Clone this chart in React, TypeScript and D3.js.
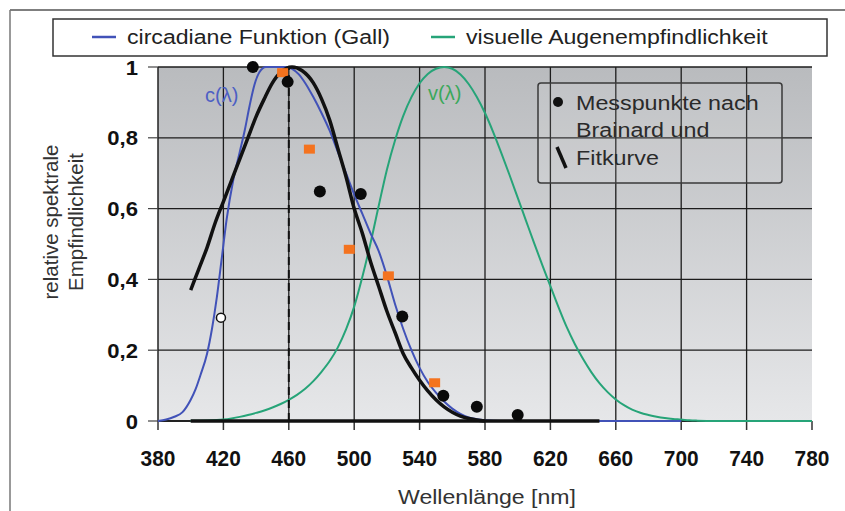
import * as React from "react";
import * as d3 from "d3";

// wavelength [nm], relative sensitivity
const circadian: [number, number][] = [
  [380, 0], [385, 0.004], [390, 0.012], [395, 0.025], [400, 0.06], [403, 0.09],
  [406, 0.13], [410, 0.19], [413, 0.26], [416, 0.35], [419, 0.46], [422, 0.57],
  [426, 0.68], [430, 0.76], [433, 0.82], [436, 0.89], [439, 0.95], [442, 0.985],
  [446, 1.0], [458, 1.0], [462, 0.995], [466, 0.98], [470, 0.955], [475, 0.915],
  [480, 0.87], [485, 0.82], [490, 0.76], [495, 0.7], [500, 0.64], [505, 0.585],
  [510, 0.53], [515, 0.48], [520, 0.41], [525, 0.33], [530, 0.26], [535, 0.2],
  [540, 0.15], [545, 0.11], [550, 0.08], [555, 0.055], [560, 0.035], [565, 0.02],
  [570, 0.01], [575, 0.005], [580, 0.002], [590, 0], [700, 0],
];

const visual: [number, number][] = [
  [400, 0.0004], [410, 0.0012], [420, 0.004], [425, 0.0073], [430, 0.0116], [435, 0.0168],
  [440, 0.023], [445, 0.0298], [450, 0.038], [455, 0.048], [460, 0.06], [465, 0.0739],
  [470, 0.091], [475, 0.1126], [480, 0.139], [485, 0.1693], [490, 0.208], [495, 0.2586],
  [500, 0.323], [505, 0.4073], [510, 0.503], [515, 0.6082], [520, 0.71], [525, 0.7932],
  [530, 0.862], [535, 0.9149], [540, 0.954], [545, 0.9803], [550, 0.995], [555, 1.0],
  [560, 0.995], [565, 0.9786], [570, 0.952], [575, 0.9154], [580, 0.87], [585, 0.8163],
  [590, 0.757], [595, 0.6949], [600, 0.631], [605, 0.5668], [610, 0.503], [615, 0.4412],
  [620, 0.381], [625, 0.321], [630, 0.265], [635, 0.217], [640, 0.175], [645, 0.1382],
  [650, 0.107], [655, 0.0816], [660, 0.061], [665, 0.0446], [670, 0.032], [675, 0.0232],
  [680, 0.017], [685, 0.0119], [690, 0.0082], [695, 0.0057], [700, 0.0041], [705, 0.002],
  [710, 0.001], [720, 0], [780, 0],
];

const fitCurve: [number, number][] = [
  [400, 0.37], [405, 0.43], [410, 0.49], [415, 0.56], [420, 0.62], [425, 0.68],
  [430, 0.74], [435, 0.8], [440, 0.86], [445, 0.91], [450, 0.955], [455, 0.985],
  [462, 1.0], [468, 0.99], [475, 0.955], [480, 0.91], [485, 0.85], [490, 0.77],
  [495, 0.69], [500, 0.6], [505, 0.53], [510, 0.45], [515, 0.38], [520, 0.31],
  [525, 0.25], [530, 0.19], [535, 0.15], [540, 0.115], [545, 0.085], [550, 0.06],
  [555, 0.04], [560, 0.025], [565, 0.014], [570, 0.007], [575, 0.003], [580, 0],
];

const fitBaseline: [number, number][] = [[400, 0], [650, 0]];

const brainardDots: [number, number][] = [
  [438, 1.0], [459.3, 0.958], [479, 0.648], [504, 0.641],
  [529.4, 0.295], [554.5, 0.071], [575, 0.04], [600, 0.017],
];
const openDot: [number, number] = [418.5, 0.292];

const orangeSquares: [number, number][] = [
  [456.2, 0.984], [472.6, 0.768], [497, 0.485], [520.9, 0.41], [549.2, 0.108],
];

const peakLine = 460;

const xTicks = [380, 420, 460, 500, 540, 580, 620, 660, 700, 740, 780];
const yTicks = [0, 0.2, 0.4, 0.6, 0.8, 1];
const yTickLabels = ["0", "0,2", "0,4", "0,6", "0,8", "1"];

const BLUE = "#4152b8";
const GREEN = "#26a478";
const ORANGE = "#f4731f";
const FONT = "'Liberation Sans', Arial, sans-serif";

function SText({
  x, y, sx = 1.1, anchor = "start", size = 21, fill = "#222", weight = "normal", children,
}: {
  x: number; y: number; sx?: number; anchor?: string; size?: number; fill?: string;
  weight?: string; children: React.ReactNode;
}) {
  return (
    <g transform={`translate(${x},${y}) scale(${sx},1)`}>
      <text x={0} y={0} textAnchor={anchor} fontSize={size} fill={fill} fontWeight={weight} fontFamily={FONT}>
        {children}
      </text>
    </g>
  );
}

export default function App() {
  const x = d3.scaleLinear().domain([380, 780]).range([158, 812]);
  const y = d3.scaleLinear().domain([0, 1]).range([421, 67]);

  const line = d3.line<[number, number]>()
    .x((d) => x(d[0]))
    .y((d) => y(d[1]))
    .curve(d3.curveMonotoneX);

  const [x0, x1] = x.range();
  const [yb, yt] = y.range();

  return (
    <svg width={845} height={511} style={{ position: "absolute", left: 0, top: 0, background: "#fff" }}>
      <defs>
        <linearGradient id="bg" x1="0" y1="0" x2="0" y2="1">
          <stop offset="0" stopColor="#b9bbbe" />
          <stop offset="1" stopColor="#e6e7e9" />
        </linearGradient>
      </defs>

      {/* outer frame */}
      <line x1={10} y1={10} x2={845} y2={10} stroke="#555" strokeWidth={1.5} />
      <line x1={10} y1={10} x2={10} y2={511} stroke="#777" strokeWidth={1.5} />

      {/* top legend */}
      <rect x={53} y={19} width={774} height={37} fill="#fff" stroke="#333" strokeWidth={1.5} />
      <line x1={92} x2={116} y1={37} y2={37} stroke={BLUE} strokeWidth={2.5} />
      <SText x={127} y={44}>circadiane Funktion (Gall)</SText>
      <line x1={431} x2={455} y1={37} y2={37} stroke={GREEN} strokeWidth={2.5} />
      <SText x={466} y={44}>visuelle Augenempfindlichkeit</SText>

      {/* plot background */}
      <rect x={x0} y={yt} width={x1 - x0} height={yb - yt} fill="url(#bg)" />

      {/* grid */}
      {xTicks.slice(1, -1).map((t) => (
        <line key={`gx${t}`} x1={x(t)} x2={x(t)} y1={yt} y2={yb} stroke="#1c1c1c" strokeWidth={1.3} />
      ))}
      {yTicks.slice(1).map((t) => (
        <line key={`gy${t}`} x1={x0} x2={x1} y1={y(t)} y2={y(t)} stroke="#1c1c1c" strokeWidth={1.3} />
      ))}

      {/* axes */}
      <line x1={x0} x2={x0} y1={yt} y2={yb} stroke="#222" strokeWidth={1.5} />
      {yTicks.map((t, i) => (
        <g key={`yt${t}`}>
          <line x1={x0 - 10} x2={x0} y1={y(t)} y2={y(t)} stroke="#444" strokeWidth={1.2} />
          <SText x={138} y={y(t) + 7.5} sx={1.05} anchor="end" size={21} weight="bold" fill="#111">
            {yTickLabels[i]}
          </SText>
        </g>
      ))}
      <line x1={x0} x2={x1} y1={yb} y2={yb} stroke="#222" strokeWidth={2} />
      {xTicks.map((t) => (
        <g key={`xt${t}`}>
          <line x1={x(t)} x2={x(t)} y1={yb} y2={yb + 9} stroke="#333" strokeWidth={1.5} />
          <SText x={x(t)} y={466} sx={0.95} anchor="middle" size={22} weight="bold" fill="#111">
            {t}
          </SText>
        </g>
      ))}

      {/* curves */}
      <path d={line(visual) ?? undefined} fill="none" stroke={GREEN} strokeWidth={2} />
      <path d={line(circadian) ?? undefined} fill="none" stroke={BLUE} strokeWidth={2} />
      <path d={line(fitBaseline) ?? undefined} fill="none" stroke="#111" strokeWidth={3.5} />
      <path d={line(fitCurve) ?? undefined} fill="none" stroke="#111" strokeWidth={3.5} />

      {/* peak marker */}
      <line x1={x(peakLine)} x2={x(peakLine)} y1={y(0)} y2={y(1)} stroke="#111" strokeWidth={2} strokeDasharray="8 5" />

      {/* measurements */}
      {orangeSquares.map(([l, v], i) => (
        <rect key={`sq${i}`} x={x(l) - 5.5} y={y(v) - 4.5} width={11} height={9} fill={ORANGE} />
      ))}
      {brainardDots.map(([l, v], i) => (
        <circle key={`dot${i}`} cx={x(l)} cy={y(v)} r={6} fill="#0a0a0a" />
      ))}
      <circle cx={x(openDot[0])} cy={y(openDot[1])} r={4.5} fill="#fff" stroke="#111" strokeWidth={1.5} />

      {/* curve labels */}
      <SText x={205} y={102} sx={1.0} size={20} fill="#4d5fc4">c(λ)</SText>
      <SText x={428} y={100} sx={1.0} size={20} fill="#3aa85a">v(λ)</SText>

      {/* inner legend */}
      <rect x={538} y={83} width={244} height={100} rx={3} fill="#ffffff" fillOpacity={0.1} stroke="#3a3a3a" strokeWidth={1.5} />
      <circle cx={558} cy={102} r={5} fill="#111" />
      <SText x={576} y={110} sx={1.11} fill="#2a2a2a">Messpunkte nach</SText>
      <SText x={576} y={137} sx={1.11} fill="#2a2a2a">Brainard  und</SText>
      <line x1={557} y1={147} x2={566} y2={168} stroke="#111" strokeWidth={3.5} />
      <SText x={576} y={165} sx={1.11} fill="#2a2a2a">Fitkurve</SText>

      {/* axis titles */}
      <SText x={487} y={504} anchor="middle" fill="#333">Wellenlänge [nm]</SText>
      <g transform="translate(58,222) rotate(-90)">
        <text x={0} y={0} textAnchor="middle" fontSize={20.5} fontFamily={FONT} fill="#333">relative spektrale</text>
      </g>
      <g transform="translate(83,222) rotate(-90)">
        <text x={0} y={0} textAnchor="middle" fontSize={20.5} fontFamily={FONT} fill="#333">Empfindlichkeit</text>
      </g>
    </svg>
  );
}
